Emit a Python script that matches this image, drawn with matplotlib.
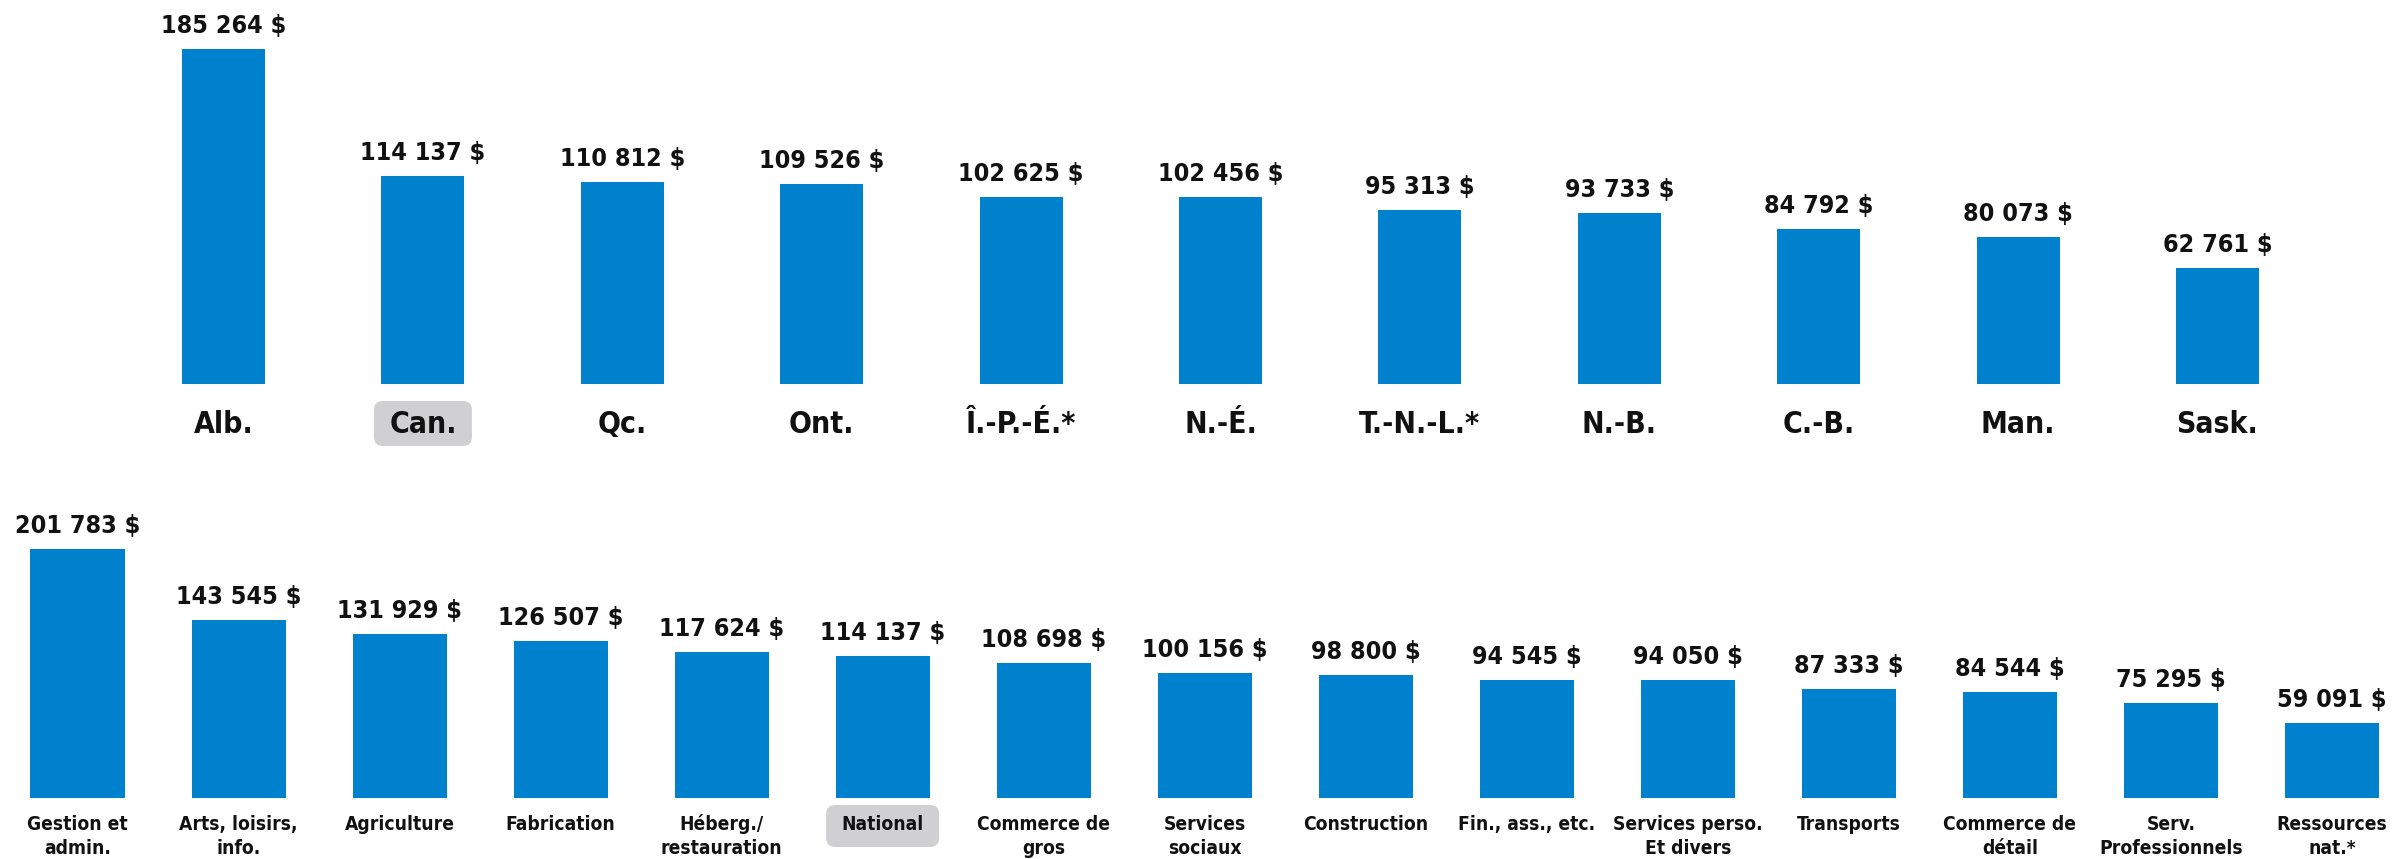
import matplotlib
matplotlib.use('Agg')
import matplotlib.pyplot as plt
from matplotlib import font_manager as fm
from matplotlib.patches import FancyBboxPatch
from matplotlib.transforms import IdentityTransform
import numpy as np

# ---------------- data ----------------
prov_labels = ['Alb.', 'Can.', 'Qc.', 'Ont.', 'Î.-P.-É.*', 'N.-É.', 'T.-N.-L.*',
               'N.-B.', 'C.-B.', 'Man.', 'Sask.']
prov_values = [185264, 114137, 110812, 109526, 102625, 102456, 95313,
               93733, 84792, 80073, 62761]
prov_highlight = 'Can.'

ind_labels = ['Gestion et\nadmin.', 'Arts, loisirs,\ninfo.', 'Agriculture',
              'Fabrication', 'Héberg./\nrestauration', 'National',
              'Commerce de\ngros', 'Services\nsociaux', 'Construction',
              'Fin., ass., etc.', 'Services perso.\nEt divers', 'Transports',
              'Commerce de\ndétail', 'Serv.\nProfessionnels', 'Ressources\nnat.*']
ind_values = [201783, 143545, 131929, 126507, 117624, 114137, 108698, 100156,
              98800, 94545, 94050, 87333, 84544, 75295, 59091]
ind_highlight = 'National'


def fmt(v):
    return f"{v:,}".replace(',', ' ') + ' $'


# ---------------- fonts ----------------
cond = False
try:
    p = fm.findfont(fm.FontProperties(family='DejaVu Sans', stretch='condensed',
                                      weight='bold'), fallback_to_default=False)
    cond = 'Condensed' in p
except Exception:
    cond = False
STRETCH = 'condensed' if cond else 'normal'
K = 1.0 if cond else 0.9
TXT = dict(family='DejaVu Sans', fontstretch=STRETCH, fontweight='bold',
           color='#111111')

BAR = '#0081CD'
BOX = '#D0D0D2'
W, H = 2399, 859
PT = 72.0 / 100.0  # points per pixel

fig = plt.figure(figsize=(W / 100, H / 100), dpi=100)
fig.patch.set_facecolor('white')


def draw_panel(ax, labels, values, highlight, width, base, vfs, cfs,
               cat_off, line_h, box_w, box_top, box_bot):
    x = np.arange(len(labels))
    vals = np.array(values, dtype=float)
    ax.bar(x, vals - base, bottom=base, width=width, color=BAR, linewidth=0)
    ax.axis('off')
    ax.patch.set_visible(False)
    for i, v in enumerate(values):
        ax.annotate(fmt(v), xy=(i, v), xytext=(0, 16 * PT),
                    textcoords='offset points', ha='center', va='baseline',
                    fontsize=vfs * K, annotation_clip=False, **TXT)
    xt = ax.get_xaxis_transform()
    for i, lab in enumerate(labels):
        for k, line in enumerate(lab.split('\n')):
            ax.annotate(line, xy=(i, 0), xycoords=xt,
                        xytext=(0, -(cat_off + k * line_h) * PT),
                        textcoords='offset points', ha='center',
                        va='baseline', fontsize=cfs * K,
                        annotation_clip=False, zorder=4, **TXT)
        if lab == highlight:
            cx = ax.transData.transform((i, 0))[0]
            y_ax = ax.transAxes.transform((0, 0))[1]
            y0 = y_ax - box_bot
            y1 = y_ax - box_top
            patch = FancyBboxPatch((cx - box_w / 2, y0), box_w, y1 - y0,
                                   boxstyle='round,pad=0,rounding_size=9',
                                   facecolor=BOX, edgecolor='none',
                                   transform=IdentityTransform(),
                                   clip_on=False, zorder=2)
            ax.add_artist(patch)


# ---------------- top panel (provinces) ----------------
t_left, t_sp = 223.5, 199.4
t_bottom = 384
a1, base1 = 0.001788, -2125
ax1 = fig.add_axes([(t_left - 0.5 * t_sp) / W, (H - t_bottom) / H,
                    (11 * t_sp) / W, t_bottom / H])
ax1.set_xlim(-0.5, 10.5)
ax1.set_ylim(base1, base1 + t_bottom / a1)
draw_panel(ax1, prov_labels, prov_values, prov_highlight, 0.416, base1,
           18, 21.6, 49, 0, 98, 401 - t_bottom, 446 - t_bottom)

# ---------------- bottom panel (industries) ----------------
b_left, b_sp = 77.5, 161.03
b_bottom, b_top = 798, 500
a2, base2 = 0.001219, -2420
ax2 = fig.add_axes([0, (H - b_bottom) / H, 1, (b_bottom - b_top) / H])
ax2.set_xlim(-b_left / b_sp, (W - b_left) / b_sp)
ax2.set_ylim(base2, base2 + (b_bottom - b_top) / a2)
draw_panel(ax2, ind_labels, ind_values, ind_highlight, 0.584, base2,
           18, 13.8, 32, 24, 113, 805 - b_bottom, 847 - b_bottom)

fig.savefig('out.png', dpi=100, facecolor='white')
